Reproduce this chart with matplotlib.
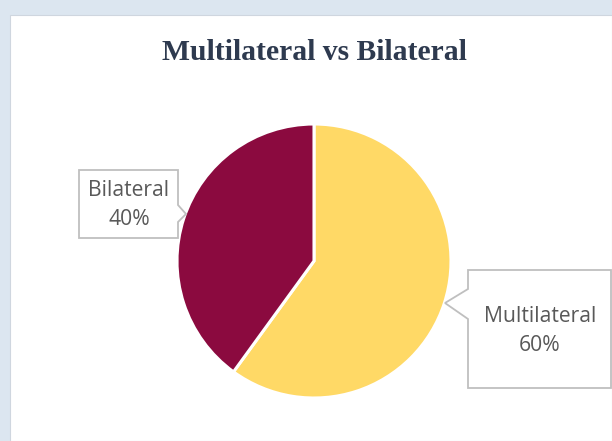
import matplotlib
matplotlib.use("Agg")
import matplotlib.pyplot as plt
from matplotlib.patches import Rectangle, Polygon

title = "Multilateral vs Bilateral"
labels = ["Multilateral", "Bilateral"]
values = [60, 40]
colors = ["#FFD966", "#8B0A3F"]

W, H = 612, 441
fig = plt.figure(figsize=(W / 100, H / 100), dpi=100, facecolor="#dce6f0")
ax = fig.add_axes([0, 0, 1, 1])
ax.set_axis_off()

def Y(y):
    return H - y

# white panel
ax.add_patch(Rectangle((10, 0), W - 10, Y(15), facecolor="white",
                       edgecolor="#cfd6df", linewidth=0.8, zorder=0))

ax.pie(values, colors=colors, startangle=90, counterclock=False,
       center=(314, Y(261)), radius=137,
       wedgeprops=dict(edgecolor="white", linewidth=2.2))
ax.set_xlim(0, W)
ax.set_ylim(0, H)

ax.text(314, Y(60), title, ha="center", va="baseline", fontsize=21.3,
        fontweight="bold", family="Liberation Serif", color="#2e3a4f")

box_style = dict(facecolor="white", edgecolor="#bfbfbf", linewidth=1.3, zorder=5)
# right callout (Multilateral)
right_pts = [(468, 270), (611, 270), (611, 388), (468, 388), (468, 319), (445, 303), (468, 289)]
ax.add_patch(Polygon([(x, Y(y)) for x, y in right_pts], closed=True, **box_style))
# left callout (Bilateral)
left_pts = [(79, 170), (178, 170), (178, 205), (186, 214), (178, 222), (178, 238), (79, 238)]
ax.add_patch(Polygon([(x, Y(y)) for x, y in left_pts], closed=True, **box_style))

txt = dict(ha="center", va="center", fontsize=15.2, family="Open Sans",
           color="#595959", linespacing=1.5, zorder=6)
ax.text(540, Y(331), f"{labels[0]}\n{values[0]}%", **txt)
ax.text(129, Y(205), f"{labels[1]}\n{values[1]}%", **txt)

fig.savefig("out.png", dpi=100, facecolor=fig.get_facecolor())
